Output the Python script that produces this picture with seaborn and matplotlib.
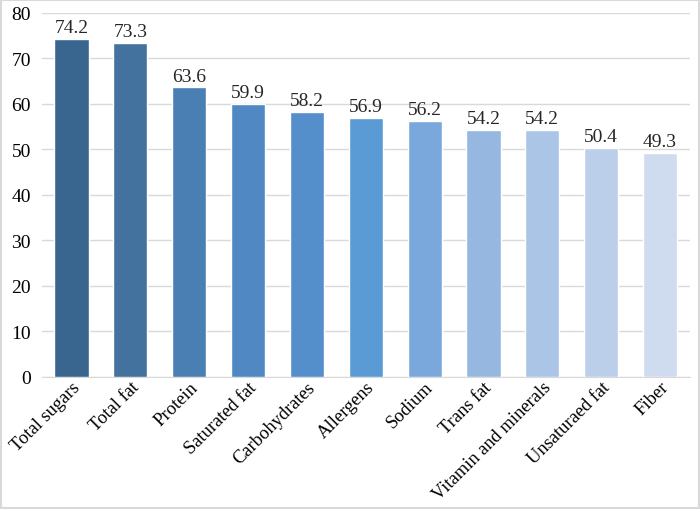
import pandas as pd
import seaborn as sns
import matplotlib.pyplot as plt

categories = ["Total sugars", "Total fat", "Protein", "Saturated fat", "Carbohydrates",
              "Allergens", "Sodium", "Trans fat", "Vitamin and minerals",
              "Unsaturaed fat", "Fiber"]
values = [74.2, 73.3, 63.6, 59.9, 58.2, 56.9, 56.2, 54.2, 54.2, 50.4, 49.3]
colors = ["#38668f", "#43729f", "#4a7fb4", "#4f88c3", "#548fcc", "#5b9bd5",
          "#7aa8dc", "#96b8e0", "#abc5e6", "#bccfea", "#cfdcef"]

df = pd.DataFrame({"Nutrient": categories, "Value": values})

sns.set_style("white")
plt.rcParams["font.family"] = ["Liberation Serif", "DejaVu Serif"]

fig = plt.figure(figsize=(7, 5.1), dpi=100)
ax = fig.add_axes([0.06, 0.259, 0.925, 0.714])

sns.barplot(data=df, x="Nutrient", y="Value", hue="Nutrient", palette=colors,
            saturation=1, width=0.58, legend=False, ax=ax, zorder=3)

for container in ax.containers:
    ax.bar_label(container, fmt="%.1f", fontsize=14, padding=2)

ax.set_ylim(0, 80)
ax.set_yticks(range(0, 81, 10))
ax.set_xlim(-0.5, 10.5)
ax.yaxis.grid(True, color="#d9d9d9", linewidth=1, zorder=0)
ax.set_axisbelow(True)
for s in ["top", "right", "left"]:
    ax.spines[s].set_visible(False)
ax.spines["bottom"].set_color("#d9d9d9")
ax.tick_params(axis="y", length=0, labelsize=14, colors="black", pad=8)
ax.tick_params(axis="x", length=0, labelsize=13.3, colors="black", pad=1)
plt.setp(ax.get_xticklabels(), rotation=45, ha="right", rotation_mode="anchor")
ax.set_xlabel("")
ax.set_ylabel("")

fig.patches.append(plt.Rectangle((0.001, 0.001), 0.997, 0.997, transform=fig.transFigure,
                                 fill=False, edgecolor="#d9d9d9", linewidth=1.5))

fig.savefig("out.png", dpi=100)
